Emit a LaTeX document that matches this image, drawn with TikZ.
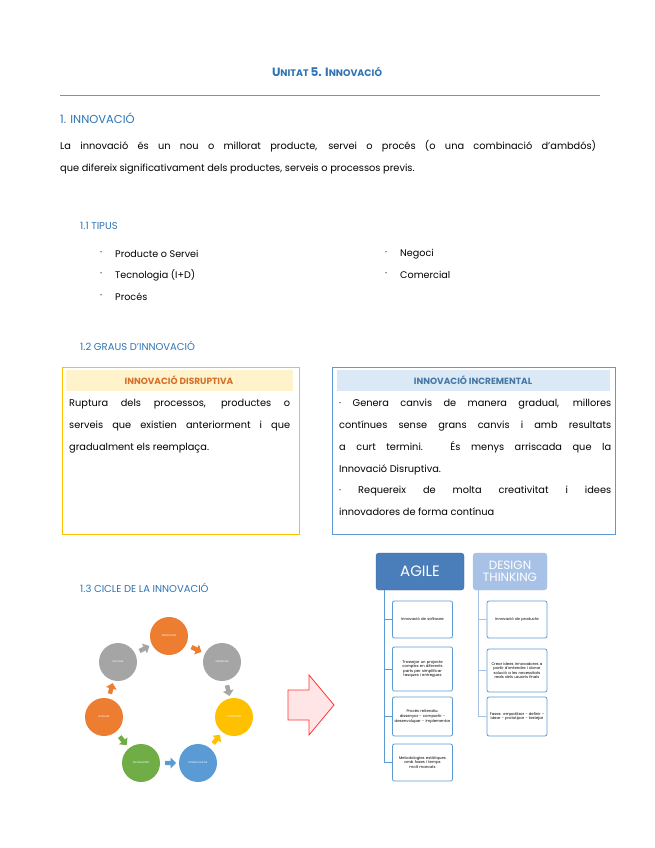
\documentclass[tikz,border=0pt]{standalone}
\usepackage{fontspec}
\setmainfont{Poppins}
\usetikzlibrary{shapes.arrows}
\definecolor{hblue}{HTML}{2E74B5}
\definecolor{lblue}{HTML}{5B9BD5}
\definecolor{agileblue}{HTML}{4A7EBB}
\definecolor{dtblue}{HTML}{A7C2E6}
\definecolor{corange}{HTML}{ED7D31}
\definecolor{cgray}{HTML}{A5A5A5}
\definecolor{cyell}{HTML}{FFC000}
\definecolor{cgreen}{HTML}{70AD47}
\tikzset{
 x=1pt,y=-1pt,
 head/.style={anchor=west,text=hblue,font=\fontsize{10}{12}\selectfont,inner sep=0},
 body/.style={anchor=west,font=\fontsize{9.6}{11}\selectfont,inner sep=0},
 circ/.style={circle,minimum size=38,inner sep=0,text=white,font=\fontsize{2.5}{3}\selectfont},
 sarr/.style={single arrow,minimum width=11,minimum height=11,single arrow head extend=2.5,inner sep=1.5},
 item/.style={draw=lblue,rounded corners=2,line width=0.8,fill=white,text width=56,align=center,font=\fontsize{3.8}{4.6}\selectfont,inner sep=2}
}
\begin{document}
\begin{tikzpicture}
\hyphenpenalty=10000
\useasboundingbox (0,0) rectangle (655,848);
\node[text=hblue,font=\fontsize{12}{14}\selectfont\bfseries] (title) at (327,72) {U\fontsize{9.5}{10}\selectfont NITAT \fontsize{12}{14}\selectfont 5. I\fontsize{9.5}{10}\selectfont NNOVACIÓ};
\draw[lblue,line width=0.6] (60,95) -- (600,95);
\node[head,font=\fontsize{11.5}{13}\selectfont] (h1) at (60,118) {1. INNOVACIÓ};
\node[anchor=north west,inner sep=0,text width=536,align=justify,font=\fontsize{9.8}{22.5}\selectfont] (p1) at (60,140) {La innovació és un nou o millorat producte, servei o procés (o una combinació d'ambdós)\linebreak que difereix significativament dels productes, serveis o processos previs.};
\node[head] (h11) at (80,226) {1.1 TIPUS};
\foreach \t/\x/\y/\n in {Producte o Servei/100/254/a, Tecnologia (I+D)/100/275/b, Procés/100/297/c, Negoci/385/254/d, Comercial/385/275/e}{
 \node[body] (b\n) at (\x,\y) {·};
 \node[body] (t\n) at (\x+15,\y) {\t};
}
\node[head] (h12) at (80,346) {1.2 GRAUS D'INNOVACIÓ};
% disruptiva
\draw[cyell,line width=0.8] (62,367) rectangle (299,534);
\fill[cyell!20] (66,370) rectangle (293,391);
\node[text=corange!90!black,font=\fontsize{9}{10}\selectfont\bfseries] (dh) at (179,380) {INNOVACIÓ DISRUPTIVA};
\node[anchor=north west,inner sep=0,text width=221,align=justify,font=\fontsize{9.8}{22}\selectfont] (dt) at (69,399) {Ruptura dels processos, productes o\linebreak serveis que existien anteriorment i que\linebreak gradualment els reemplaça.};
% incremental
\draw[lblue,line width=0.8] (332,367) rectangle (615,534);
\fill[lblue!22] (337,370) rectangle (610,391);
\node[text=hblue!70!gray,font=\fontsize{9}{10}\selectfont\bfseries] (ih) at (473,380) {INNOVACIÓ INCREMENTAL};
\node[anchor=north west,inner sep=0,text width=272,align=justify,font=\fontsize{9.8}{21.8}\selectfont] (it) at (339,399) {· Genera canvis de manera gradual, millores\linebreak contínues sense grans canvis i amb resultats\linebreak a curt termini. És menys arriscada que la\linebreak Innovació Disruptiva.\\ · Requereix de molta creativitat i idees\linebreak innovadores de forma contínua};
\node[head] (h13) at (80,588) {1.3 CICLE DE LA INNOVACIÓ};
% cycle
\node[circ,fill=corange] (c1) at (169,636) {IDENTIFICAR};
\node[circ,fill=cgray] (c2) at (222,662) {OBSERVAR};
\node[circ,fill=cyell] (c3) at (234,717) {COMPARTIR};
\node[circ,fill=lblue] (c4) at (198,763) {DESENVOLUPAR};
\node[circ,fill=cgreen] (c5) at (141,763) {IMPLEMENTAR};
\node[circ,fill=corange] (c6) at (104,717) {AVALUAR};
\node[circ,fill=cgray] (c7) at (118,662) {ESCALAR};
\foreach \a/\b/\col in {c1/c2/corange,c2/c3/cgray,c3/c4/cyell,c4/c5/lblue,c5/c6/cgreen,c6/c7/corange,c7/c1/cgray}{
 \path (\a) -- (\b) node[midway,sloped,sarr,fill=\col] {};
}
% big arrow
\draw[red!80,fill=red!10,line width=0.8] (288,690) -- (309,690) -- (309,675) -- (334,705) -- (309,735) -- (309,720) -- (288,720) -- cycle;
% agile
\node[draw=agileblue!80!black,fill=agileblue,rounded corners=3,minimum width=88,minimum height=37,text=white,font=\fontsize{15}{16}\selectfont] (ag) at (420,571.5) {AGILE};
\node[fill=dtblue,draw=dtblue,rounded corners=3,minimum width=74,minimum height=37,text=white,align=center,font=\fontsize{12}{11.5}\selectfont,inner sep=0] (dth) at (510,571.5) {DESIGN\\THINKING};
\node[item,minimum height=37] (a1) at (422.5,619.5) {Innovació de software};
\node[item,minimum height=44] (a2) at (422.5,669) {Trossejar un projecte complex en diferents parts per simplificar tasques i entregues};
\node[item,minimum height=39] (a3) at (422.5,716.5) {Procés reiteratiu: dissenyar - compartir - desenvolupar - implementar};
\node[item,minimum height=37] (a4) at (422.5,762.5) {Metodologies estàtiques amb fases i temps molt marcats};
\node[item,minimum height=37] (d1) at (517,619.5) {Innovació de producte};
\node[item,minimum height=43] (d2) at (517,670.5) {Crear idees innovadores a partir d'entendre i donar solució a les necessitats reals dels usuaris finals};
\node[item,minimum height=39] (d3) at (517,716.5) {Fases: empatitzar - definir - idear - prototipar - testejar};
\coordinate (av) at (384,0);
\foreach \i in {1,2,3,4}{\draw[lblue,line width=0.8] (ag.south -| av) |- (a\i.west);}
\coordinate (dv) at (478,0);
\foreach \i in {1,2,3}{\draw[dtblue,line width=0.8] (dth.south -| dv) |- (d\i.west);}
\end{tikzpicture}
\end{document}
